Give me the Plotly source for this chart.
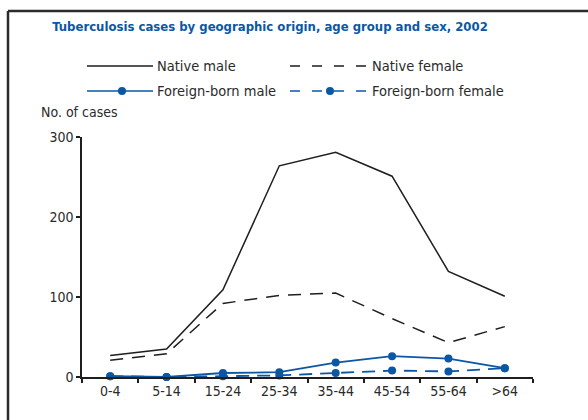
import plotly.graph_objects as go

# Age groups and case counts, 2002
age_groups = ["0-4", "5-14", "15-24", "25-34", "35-44", "45-54", "55-64", ">64"]
native_male = [27, 35, 109, 264, 281, 251, 132, 101]
native_female = [21, 29, 92, 102, 105, 73, 43, 63]
foreign_male = [1, 0, 5, 6, 18, 26, 23, 11]
foreign_female = [1, 0, 1, 2, 5, 8, 7, 11]
y_ticks = [0, 100, 200, 300]

FONT = "DejaVu Sans Condensed, Liberation Sans Narrow, sans-serif"
BLACK = "#1e1e1e"
BLUE = "#0b57a4"
TEXT = "#2a2a2a"

W, H = 588, 420
L, R, T, B = 82, 55, 137, 43
PW, PH = W - L - R, H - T - B


def px(x):
    return (x - L) / PW


def py(y):
    return (H - B - y) / PH


fig = go.Figure()
fig.add_trace(go.Scatter(x=age_groups, y=native_male, mode="lines",
                         line=dict(color=BLACK, width=1.5), cliponaxis=False))
fig.add_trace(go.Scatter(x=age_groups, y=native_female, mode="lines",
                         line=dict(color=BLACK, width=1.5, dash="13px,9px"),
                         cliponaxis=False))
fig.add_trace(go.Scatter(x=age_groups, y=foreign_male, mode="lines+markers",
                         line=dict(color=BLUE, width=1.8),
                         marker=dict(color=BLUE, size=8), cliponaxis=False))
fig.add_trace(go.Scatter(x=age_groups, y=foreign_female, mode="lines+markers",
                         line=dict(color=BLUE, width=1.8, dash="13px,8px"),
                         marker=dict(color=BLUE, size=8), cliponaxis=False))

shapes = []
annotations = []

# Panel frame (left and top edges)
shapes.append(dict(type="line", xref="paper", yref="paper",
                   x0=px(8), x1=px(W + 2), y0=py(11), y1=py(11),
                   line=dict(color="#2b2b2b", width=2.5)))
shapes.append(dict(type="line", xref="paper", yref="paper",
                   x0=px(8), x1=px(8), y0=py(11), y1=py(H + 2),
                   line=dict(color="#2b2b2b", width=2.5)))

# Legend drawn by hand: (label, row y, line start, line end, dash, colour, marker x)
legend_items = [
    ("Native male", 66, 87, 153, "solid", BLACK, None),
    ("Native female", 66, 290, 368, "10px,12px", BLACK, None),
    ("Foreign-born male", 91, 87, 153, "solid", BLUE, 122),
    ("Foreign-born female", 91, 290, 368, "10px,12px", BLUE, 330),
]
for label, yy, xa, xb, dash, col, mx in legend_items:
    shapes.append(dict(type="line", xref="paper", yref="paper",
                       x0=px(xa), x1=px(xb), y0=py(yy), y1=py(yy),
                       line=dict(color=col, width=1.5, dash=dash)))
    if mx is not None:
        shapes.append(dict(type="circle", xref="paper", yref="paper",
                           x0=px(mx - 4), x1=px(mx + 4),
                           y0=py(yy + 4), y1=py(yy - 4),
                           fillcolor=col, line=dict(color=col, width=0)))
    annotations.append(dict(text=label, xref="paper", yref="paper",
                            x=px(xb + 2), y=py(yy), xanchor="left",
                            yanchor="middle", showarrow=False,
                            font=dict(family=FONT, size=14.5, color=TEXT)))

annotations.append(dict(text="No. of cases", xref="paper", yref="paper",
                        x=px(39), y=py(112), xanchor="left", yanchor="middle",
                        showarrow=False,
                        font=dict(family=FONT, size=14, color=TEXT)))

fig.update_layout(
    width=W, height=H,
    margin=dict(l=L, r=R, t=T, b=B),
    paper_bgcolor="white", plot_bgcolor="white",
    showlegend=False,
    title=dict(text="<b>Tuberculosis cases by geographic origin, age group and sex, 2002</b>",
               x=px(270), xref="paper", xanchor="center", y=1 - 26 / H, yanchor="middle",
               font=dict(family=FONT, size=13, color=BLUE)),
    font=dict(family=FONT, size=14, color=TEXT),
    shapes=shapes, annotations=annotations,
)
fig.update_xaxes(type="category", showgrid=False, showline=True,
                 linecolor=BLACK, linewidth=1.5, ticks="outside",
                 tickson="boundaries", ticklen=4, tickcolor=BLACK,
                 tickwidth=1.5, range=[-0.5, 7.5], zeroline=False,
                 tickfont=dict(family=FONT, size=14, color=TEXT))
fig.update_yaxes(range=[0, 300], tickvals=y_ticks, showgrid=False,
                 showline=True, linecolor=BLACK, linewidth=1.5,
                 ticks="outside", ticklen=4, tickcolor=BLACK, tickwidth=1.5,
                 zeroline=False,
                 tickfont=dict(family=FONT, size=14, color=TEXT))

fig.write_html("out.html")
